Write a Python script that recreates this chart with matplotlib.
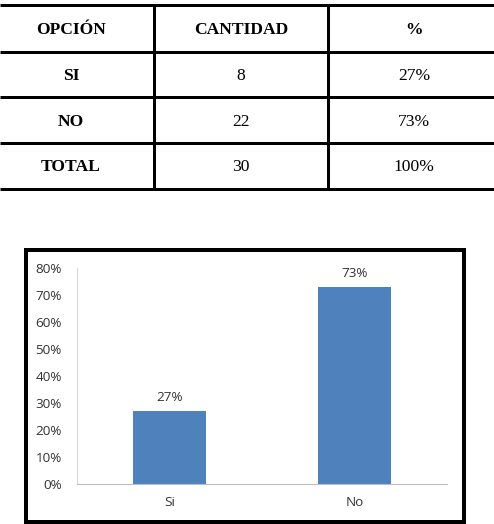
import matplotlib
matplotlib.use('Agg')
import matplotlib.pyplot as plt
from matplotlib.patches import Rectangle

# table data
header = ["OPCIÓN", "CANTIDAD", "%"]
opciones = ["SI", "NO", "TOTAL"]
cantidades = ["8", "22", "30"]
porcentajes = ["27%", "73%", "100%"]

# chart data
categorias = ["Si", "No"]
valores = [0.27, 0.73]
etiquetas = ["27%", "73%"]

W, H = 494, 524
fig = plt.figure(figsize=(W / 100, H / 100), dpi=100)

# background axes in pixel coordinates
bg = fig.add_axes([0, 0, 1, 1])
bg.set_xlim(0, W)
bg.set_ylim(H, 0)
bg.axis('off')

px = 72 / 100  # points per pixel

# table grid
row_lines = [5, 52, 97, 143, 189]
col_lines = [154, 328]
for y in row_lines:
    bg.plot([0, W], [y, y], color='black', lw=3 * px, solid_capstyle='butt')
for x in col_lines:
    bg.plot([x, x], [row_lines[0], row_lines[-1]], color='black', lw=3 * px, solid_capstyle='butt')

col_centers = [71, 241, 414]
row_centers = [30, 76, 122, 167]
serif = dict(family='Liberation Serif', fontsize=12.6, ha='center', va='center')
for c, t in zip(col_centers, header):
    bg.text(c, row_centers[0], t, fontweight='bold', **serif)
for i in range(len(opciones)):
    y = row_centers[i + 1]
    bg.text(col_centers[0], y, opciones[i], fontweight='bold', **serif)
    bg.text(col_centers[1], y, cantidades[i], **serif)
    bg.text(col_centers[2], y, porcentajes[i], **serif)

# chart frame
bg.add_patch(Rectangle((26, 250), 438, 272, fill=False, ec='black', lw=4 * px))

# bar chart
ax = fig.add_axes([77 / W, (H - 484) / H, 370 / W, (484 - 268) / H])
bars = ax.bar(range(len(categorias)), valores, width=0.395, color='#4F81BD')
ax.set_xlim(-0.5, 1.5)
ax.set_ylim(0, 0.8)
ax.set_yticks([i / 10 for i in range(9)])
ax.set_yticklabels([f"{i * 10}%" for i in range(9)])
ax.set_xticks(range(len(categorias)))
ax.set_xticklabels(categorias)
for s in ['top', 'right']:
    ax.spines[s].set_visible(False)
ax.spines['left'].set_color('#D9D9D9')
ax.spines['bottom'].set_color('#BFBFBF')
ax.tick_params(length=0, labelsize=9.7, labelcolor='#333333')
ax.tick_params(axis='y', pad=11)
ax.tick_params(axis='x', pad=9)
for lab in ax.get_xticklabels() + ax.get_yticklabels():
    lab.set_family('Open Sans')
for b, t in zip(bars, etiquetas):
    ax.annotate(t, (b.get_x() + b.get_width() / 2, b.get_height()),
                xytext=(0, 5), textcoords='offset points', ha='center', va='bottom',
                fontsize=9.7, color='#333333', family='Open Sans')

plt.savefig("out.png", dpi=100)
